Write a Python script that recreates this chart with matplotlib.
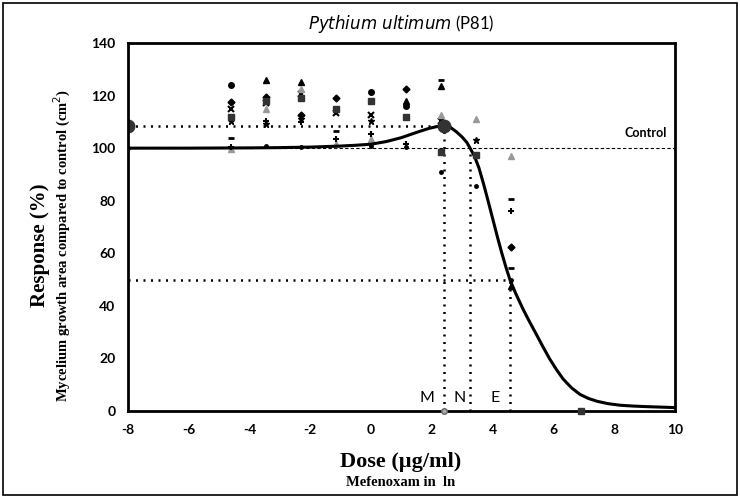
import matplotlib
matplotlib.use("Agg")
import matplotlib.pyplot as plt
from matplotlib.patches import Rectangle

plt.rcParams["axes.unicode_minus"] = False

# Fitted response curve (ln dose, % response)
curve_x = [-8, -6, -4, -3, -2, -1, -0.5, 0, 0.5, 1, 1.5, 1.9, 2.2, 2.4, 2.6,
           2.8, 3.0, 3.15, 3.26, 3.4, 3.55, 3.7, 3.85, 4.0, 4.15, 4.3, 4.45,
           4.57, 4.75, 5.0, 5.2, 5.42, 5.65, 5.87, 6.1, 6.32, 6.6, 6.88, 7.15,
           7.44, 7.8, 8.2, 8.6, 9.0, 9.5, 10]
curve_y = [100, 100, 100.1, 100.2, 100.4, 100.8, 101.1, 101.5, 102.5, 104.0,
           106.0, 107.5, 108.3, 108.6, 108.0, 106.3, 104.2, 102.2, 100, 97,
           92.5, 86.5, 80, 73.3, 66.6, 60.2, 54.3, 50, 45, 38.8, 34.3, 29.6,
           24.6, 20, 15.8, 12.2, 8.8, 6.3, 4.8, 3.7, 2.8, 2.2, 1.9, 1.7, 1.5, 1.3]

# Replicate observations, grouped by marker
circle_x = [-4.6, 0, 1.15]
circle_y = [124, 121.5, 116]
diamond_x = [-4.6, -3.45, -2.3, -1.15, 1.15, 4.6]
diamond_y = [117.5, 119.5, 112.5, 119, 122.5, 62.5]
cross_x = [-4.6, -3.45, -2.3, -1.15, 0, 2.3]
cross_y = [115, 117, 120.5, 113.5, 112.5, 110.5]
square_x = [-4.6, -3.45, -2.3, -1.15, 0, 1.15, 2.3, 3.45, 6.9]
square_y = [112, 118, 119, 115, 118, 112, 98.5, 97.5, 0]
tri_x = [-3.45, -2.3, 1.15, 2.3, 4.6]
tri_y = [126, 125, 118, 123.5, 47.5]
gtri_x = [-4.6, -3.45, -2.3, -1.15, 0, 2.3, 3.45, 4.6]
gtri_y = [99.5, 115, 122.5, 101.5, 103.5, 112.5, 111, 97]
star_x = [-4.6, -3.45, -2.3, 0, 3.45]
star_y = [110.5, 109, 111, 110.5, 103]
plus_x = [-4.6, -3.45, -2.3, -1.15, 0, 1.15, 4.6]
plus_y = [100.5, 110.5, 110, 103.5, 105.5, 101.5, 76]
dash_x = [-4.6, -1.15, 2.3, 4.6, 4.6]
dash_y = [104, 106.5, 126, 80.5, 54.5]
dot_x = [-8, -3.45, -2.3, 0, 1.15, 2.3, 3.45, 4.6]
dot_y = [100, 101, 100.5, 101, 100.5, 91, 85.5, 50]

# Key points: control maximum, M, N, E
max_y = 108.6
m_x, n_x, e_x = 2.4, 3.25, 4.57
half_y = 50
control_y = 100

xticks = [-8, -6, -4, -2, 0, 2, 4, 6, 8, 10]
yticks = [0, 20, 40, 60, 80, 100, 120, 140]

fig = plt.figure(figsize=(7.4, 4.97), dpi=100)
ax = fig.add_axes([0.173, 0.173, 0.739, 0.7405])

fig.patches.append(Rectangle((0.004, 0.004), 0.992, 0.99, transform=fig.transFigure,
                             fill=False, edgecolor="black", linewidth=1.2))

# reference lines
dotted = (0, (0.8, 2.2))
ax.plot([-8, 10], [control_y, control_y], color="black", lw=0.8, ls=(0, (3, 2)))
ax.plot([-8, m_x], [max_y, max_y], color="black", lw=1.8, ls=dotted)
ax.plot([-8, e_x], [half_y, half_y], color="black", lw=1.8, ls=dotted)
for vx, vy in [(m_x, max_y), (n_x, control_y), (e_x, half_y)]:
    ax.plot([vx, vx], [0, vy], color="black", lw=1.8, ls=dotted)

# observations
ms = 4
ax.plot(circle_x, circle_y, "o", color="black", ms=ms)
ax.plot(diamond_x, diamond_y, "D", color="black", ms=ms - 0.5)
ax.plot(cross_x, cross_y, "x", color="black", ms=ms + 1, mew=1.5)
ax.plot(square_x, square_y, "s", color="#333333", ms=ms, clip_on=False, zorder=4)
ax.plot(tri_x, tri_y, "^", color="black", ms=ms + 0.5)
ax.plot(gtri_x, gtri_y, "^", color="#999999", ms=ms + 1)
ax.plot(star_x, star_y, "*", color="black", ms=ms + 1)
ax.plot(plus_x, plus_y, "+", color="black", ms=ms + 1, mew=1.5)
ax.plot(dash_x, dash_y, "_", color="black", ms=ms, mew=2)
ax.plot(dot_x, dot_y, "o", color="black", ms=2.5)

# fitted curve
ax.plot(curve_x, curve_y, color="black", lw=2.2, solid_capstyle="round",
        solid_joinstyle="round")
ax.plot([-8, m_x], [max_y, max_y], "o", color="#333333", ms=9)
ax.plot([m_x], [0], "o", color="#aaaaaa", mec="#666666", ms=4, clip_on=False,
        zorder=4)

ax.text(m_x - 0.3, 5, "M", ha="right", va="center", fontsize=11.5, family="Lato")
ax.text(n_x - 0.15, 5, "N", ha="right", va="center", fontsize=11.5, family="Lato")
ax.text(e_x - 0.35, 5, "E", ha="right", va="center", fontsize=11.5, family="Lato")
ax.text(9.75, 103.5, "Control", ha="right", va="bottom", fontsize=9,
        family="Lato", fontweight="bold")

ax.set_xlim(-8, 10)
ax.set_ylim(0, 140)
ax.set_xticks(xticks)
ax.set_yticks(yticks)
ax.tick_params(length=0, pad=9)
for lab in ax.get_xticklabels() + ax.get_yticklabels():
    lab.set_family("Lato")
    lab.set_fontweight("bold")
    lab.set_fontsize(10)
for sp in ax.spines.values():
    sp.set_linewidth(2)

ax.set_title(r"$\it{Pythium\ ultimum}$ (P81)", fontsize=12, family="Lato", pad=10)

fig.text(0.054, 0.507, "Response (%)", rotation=90, ha="center", va="center",
         fontsize=15, family="Liberation Serif", fontweight="bold")
fig.text(0.084, 0.507, "Mycelium growth area compared to control (cm$^{2}$)",
         rotation=90, ha="center", va="center", fontsize=10.5,
         family="Liberation Serif", fontweight="bold")
fig.text(0.542, 0.07, "Dose (\u00b5g/ml)", ha="center", va="center",
         fontsize=16, family="Liberation Serif", fontweight="bold")
fig.text(0.542, 0.03, "Mefenoxam in  ln", ha="center", va="center",
         fontsize=10.5, family="Liberation Serif", fontweight="bold")

fig.savefig("out.png", dpi=100)
